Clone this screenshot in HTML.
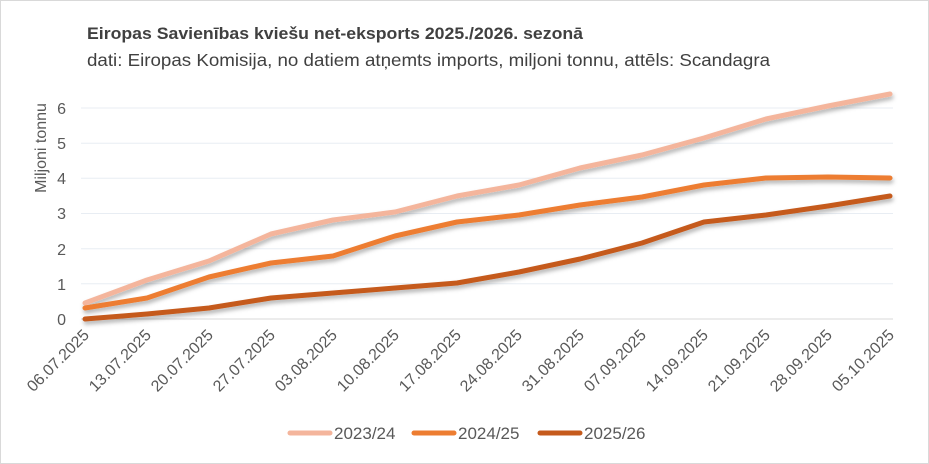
<!DOCTYPE html><html><head><meta charset="utf-8"><style>body{margin:0;background:#fff}svg{display:block}text{font-family:"Liberation Sans",sans-serif;fill:#595959}</style></head><body>
<svg width="929" height="464" viewBox="0 0 929 464">
<defs><filter id="sh" x="-5%" y="-20%" width="110%" height="140%"><feDropShadow dx="1" dy="3" stdDeviation="2" flood-color="#000" flood-opacity="0.3"/></filter></defs>
<rect x="0.5" y="0.5" width="928" height="463" fill="#fff" stroke="#d9d9d9"/>
<text x="87" y="39" font-size="17" font-weight="bold" textLength="496" lengthAdjust="spacingAndGlyphs" style="fill:#404040">Eiropas Savienības kviešu net-eksports 2025./2026. sezonā</text>
<text x="87" y="66" font-size="17.5" textLength="683" lengthAdjust="spacingAndGlyphs" style="fill:#404040">dati: Eiropas Komisija, no datiem atņemts imports, miljoni tonnu, attēls: Scandagra</text>
<g stroke="#e8edf3" stroke-width="1">
<line x1="81" x2="893" y1="283.8" y2="283.8"/><line x1="81" x2="893" y1="248.7" y2="248.7"/><line x1="81" x2="893" y1="213.5" y2="213.5"/><line x1="81" x2="893" y1="178.3" y2="178.3"/><line x1="81" x2="893" y1="143.2" y2="143.2"/><line x1="81" x2="893" y1="108" y2="108"/></g>
<line x1="81" x2="893" y1="319" y2="319" stroke="#d9d9d9"/>
<g font-size="16" text-anchor="end"><text x="66" y="325">0</text><text x="66" y="290">1</text><text x="66" y="255">2</text><text x="66" y="219">3</text><text x="66" y="184">4</text><text x="66" y="149">5</text><text x="66" y="114">6</text></g>
<text transform="translate(46,148) rotate(-90)" font-size="16" text-anchor="middle">Miljoni tonnu</text>
<g font-size="16" text-anchor="end">
<text transform="translate(90,336) rotate(-45)">06.07.2025</text>
<text transform="translate(152,336) rotate(-45)">13.07.2025</text>
<text transform="translate(214,336) rotate(-45)">20.07.2025</text>
<text transform="translate(276,336) rotate(-45)">27.07.2025</text>
<text transform="translate(338,336) rotate(-45)">03.08.2025</text>
<text transform="translate(400,336) rotate(-45)">10.08.2025</text>
<text transform="translate(462,336) rotate(-45)">17.08.2025</text>
<text transform="translate(523,336) rotate(-45)">24.08.2025</text>
<text transform="translate(585,336) rotate(-45)">31.08.2025</text>
<text transform="translate(647,336) rotate(-45)">07.09.2025</text>
<text transform="translate(709,336) rotate(-45)">14.09.2025</text>
<text transform="translate(771,336) rotate(-45)">21.09.2025</text>
<text transform="translate(833,336) rotate(-45)">28.09.2025</text>
<text transform="translate(895,336) rotate(-45)">05.10.2025</text>
</g>
<g fill="none" stroke-width="5" stroke-linejoin="round" stroke-linecap="round" filter="url(#sh)">
<polyline stroke="#f4b59c" points="85,303 147,280 209,261 271,234 333,220 395,212 457,196 519,185 580,168 642,155 704,138 766,119 828,106 890,94"/>
<polyline stroke="#ed7d31" points="85,308 147,298 209,277 271,263 333,256 395,236 457,222 519,215 580,205 642,197 704,185 766,178 828,177 890,178"/>
<polyline stroke="#c55a1c" points="85,319 147,314 209,308 271,298 333,293 395,288 457,283 519,272 580,259 642,243 704,222 766,215 828,206 890,196"/>
</g>
<g font-size="17">
<line x1="290" x2="330" y1="433" y2="433" stroke="#f4b59c" stroke-width="5" stroke-linecap="round"/><text x="334" y="439">2023/24</text>
<line x1="414" x2="454" y1="433" y2="433" stroke="#ed7d31" stroke-width="5" stroke-linecap="round"/><text x="458" y="439">2024/25</text>
<line x1="540" x2="580" y1="433" y2="433" stroke="#c55a1c" stroke-width="5" stroke-linecap="round"/><text x="584" y="439">2025/26</text>
</g>
</svg></body></html>
